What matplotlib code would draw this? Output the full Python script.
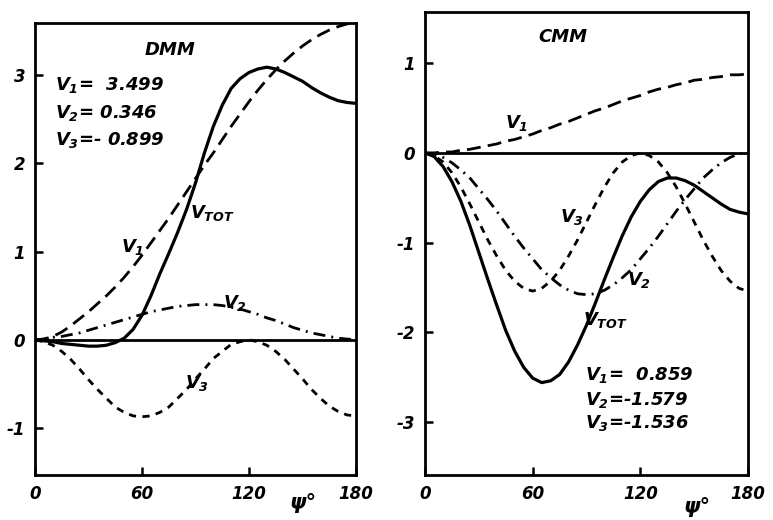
import numpy as np
import matplotlib
matplotlib.use("Agg")
import matplotlib.pyplot as plt

plt.rcParams['font.family'] = ['DejaVu Sans']
plt.rcParams['mathtext.fontset'] = 'custom'
plt.rcParams['mathtext.rm'] = 'DejaVu Sans:bold:italic'
plt.rcParams['mathtext.it'] = 'DejaVu Sans:bold:italic'
plt.rcParams['mathtext.bf'] = 'DejaVu Sans:bold:italic'

# torsion angle (degrees), values read every 5 deg
psi = list(range(0, 181, 5))

# DMM panel
dmm_v1 = [0, 0.01, 0.04, 0.09, 0.16, 0.24, 0.32, 0.41, 0.50, 0.60, 0.71, 0.83, 0.96,
          1.10, 1.24, 1.38, 1.53, 1.68, 1.83, 1.98, 2.12, 2.27, 2.42, 2.56, 2.70,
          2.83, 2.95, 3.06, 3.16, 3.25, 3.33, 3.40, 3.46, 3.51, 3.55, 3.58, 3.60]
dmm_v2 = [0, 0.01, 0.03, 0.04, 0.06, 0.08, 0.11, 0.14, 0.17, 0.20, 0.23, 0.26, 0.29,
          0.32, 0.34, 0.36, 0.38, 0.39, 0.40, 0.40, 0.40, 0.39, 0.37, 0.35, 0.32,
          0.29, 0.25, 0.22, 0.18, 0.14, 0.11, 0.08, 0.06, 0.04, 0.02, 0.01, 0]
dmm_v3 = [0, -0.02, -0.06, -0.13, -0.22, -0.33, -0.45, -0.56, -0.66, -0.76, -0.82, -0.86, -0.87,
          -0.86, -0.82, -0.76, -0.66, -0.56, -0.44, -0.33, -0.21, -0.13, -0.05, -0.02, 0,
          -0.02, -0.06, -0.13, -0.22, -0.33, -0.44, -0.56, -0.66, -0.75, -0.81, -0.85, -0.86]
dmm_tot = [0, -0.01, -0.02, -0.04, -0.05, -0.06, -0.07, -0.07, -0.06, -0.03, 0.02, 0.12, 0.28,
           0.50, 0.75, 0.98, 1.22, 1.48, 1.78, 2.12, 2.42, 2.66, 2.85, 2.96, 3.03,
           3.07, 3.09, 3.07, 3.03, 2.98, 2.93, 2.86, 2.80, 2.75, 2.71, 2.69, 2.68]

# CMM panel
cmm_v1 = [0, 0.00, 0.01, 0.01, 0.03, 0.04, 0.06, 0.08, 0.10, 0.13, 0.15, 0.18, 0.21,
          0.25, 0.28, 0.32, 0.35, 0.39, 0.43, 0.47, 0.50, 0.54, 0.58, 0.61, 0.64,
          0.68, 0.71, 0.73, 0.76, 0.78, 0.81, 0.82, 0.84, 0.85, 0.87, 0.87, 0.88]
cmm_v2 = [0, -0.01, -0.05, -0.11, -0.19, -0.28, -0.40, -0.52, -0.65, -0.79, -0.93, -1.06, -1.18,
          -1.30, -1.39, -1.47, -1.53, -1.57, -1.58, -1.57, -1.53, -1.47, -1.39, -1.30, -1.18,
          -1.06, -0.93, -0.79, -0.65, -0.52, -0.40, -0.28, -0.19, -0.11, -0.05, -0.01, 0]
cmm_v3 = [0, -0.03, -0.10, -0.22, -0.38, -0.57, -0.77, -0.97, -1.15, -1.31, -1.43, -1.51, -1.54,
          -1.51, -1.43, -1.31, -1.15, -0.97, -0.77, -0.57, -0.38, -0.22, -0.10, -0.03, 0,
          -0.03, -0.10, -0.22, -0.38, -0.57, -0.77, -0.97, -1.15, -1.31, -1.43, -1.51, -1.54]
cmm_tot = [0, -0.04, -0.15, -0.32, -0.54, -0.81, -1.11, -1.41, -1.70, -1.98, -2.21, -2.39, -2.51,
           -2.56, -2.54, -2.47, -2.33, -2.14, -1.92, -1.67, -1.41, -1.16, -0.92, -0.71, -0.54,
           -0.41, -0.32, -0.28, -0.28, -0.31, -0.36, -0.43, -0.50, -0.57, -0.63, -0.66, -0.68]

xticks = [0, 60, 120, 180]
xtick_labels = ['0', '60', '120', '180']

fig = plt.figure(figsize=(7.73, 5.2), dpi=100)
axL = fig.add_axes([0.0453, 0.0865, 0.4153, 0.8692])
axR = fig.add_axes([0.5498, 0.0865, 0.4179, 0.8904])

styles = {
    'v1': dict(color='k', lw=2.0, linestyle=(0, (5, 2.6))),
    'v2': dict(color='k', lw=2.0, linestyle=(0, (4.3, 2.2, 0.7, 2.2))),
    'v3': dict(color='k', lw=2.0, linestyle=(0, (2.6, 2.3))),
    'tot': dict(color='k', lw=2.3, linestyle='-'),
}


def setup(ax, ylim, yticks):
    ax.axhline(0, color='k', lw=2.0)
    ax.set_xlim(0, 180)
    ax.set_ylim(*ylim)
    ax.set_xticks(xticks)
    ax.set_xticklabels(xtick_labels)
    ax.set_yticks(yticks)
    ax.set_yticklabels(['-' + str(-t) if t < 0 else str(t) for t in yticks])
    for s in ax.spines.values():
        s.set_linewidth(2.0)
    ax.tick_params(direction='in', length=6, width=1.8, top=False, right=False,
                   labelsize=12, pad=7)
    for lab in ax.get_xticklabels() + ax.get_yticklabels():
        lab.set_fontweight('bold')
        lab.set_fontstyle('italic')


def draw(ax, v1, v2, v3, tot):
    ax.plot(psi, v1, **styles['v1'])
    ax.plot(psi, v2, **styles['v2'])
    ax.plot(psi, v3, **styles['v3'])
    ax.plot(psi, tot, **styles['tot'])


tkw = dict(fontsize=13, fontweight='bold', fontstyle='italic', va='center')

# left: DMM
draw(axL, dmm_v1, dmm_v2, dmm_v3, dmm_tot)
setup(axL, (-1.53, 3.59), [-1, 0, 1, 2, 3])
axL.text(75.7, 3.28, 'DMM', ha='center', **tkw)
axL.text(11, 2.89, r'$V_1$=  3.499', ha='left', **tkw)
axL.text(11, 2.57, r'$V_2$= 0.346', ha='left', **tkw)
axL.text(11, 2.26, r'$V_3$=- 0.899', ha='left', **tkw)
axL.text(55, 1.05, r'$V_1$', ha='center', **tkw)
axL.text(87, 1.44, r'$V_{TOT}$', ha='left', **tkw)
axL.text(112, 0.42, r'$V_2$', ha='center', **tkw)
axL.text(91, -0.49, r'$V_3$', ha='center', **tkw)

# right: CMM
draw(axR, cmm_v1, cmm_v2, cmm_v3, cmm_tot)
setup(axR, (-3.59, 1.57), [-3, -2, -1, 0, 1])
axR.text(77, 1.29, 'CMM', ha='center', **tkw)
axR.text(51, 0.33, r'$V_1$', ha='center', **tkw)
axR.text(82, -0.71, r'$V_3$', ha='center', **tkw)
axR.text(119, -1.42, r'$V_2$', ha='center', **tkw)
axR.text(88, -1.86, r'$V_{TOT}$', ha='left', **tkw)
axR.text(89, -2.47, r'$V_1$=  0.859', ha='left', **tkw)
axR.text(89, -2.75, r'$V_2$=-1.579', ha='left', **tkw)
axR.text(89, -3.01, r'$V_3$=-1.536', ha='left', **tkw)

fig.text(303 / 773, 1 - 503 / 520, 'ψ°', fontsize=15, fontweight='bold',
         fontstyle='italic', ha='center', va='center')
fig.text(697 / 773, 1 - 507 / 520, 'ψ°', fontsize=15, fontweight='bold',
         fontstyle='italic', ha='center', va='center')

fig.savefig('out.png', dpi=100)
